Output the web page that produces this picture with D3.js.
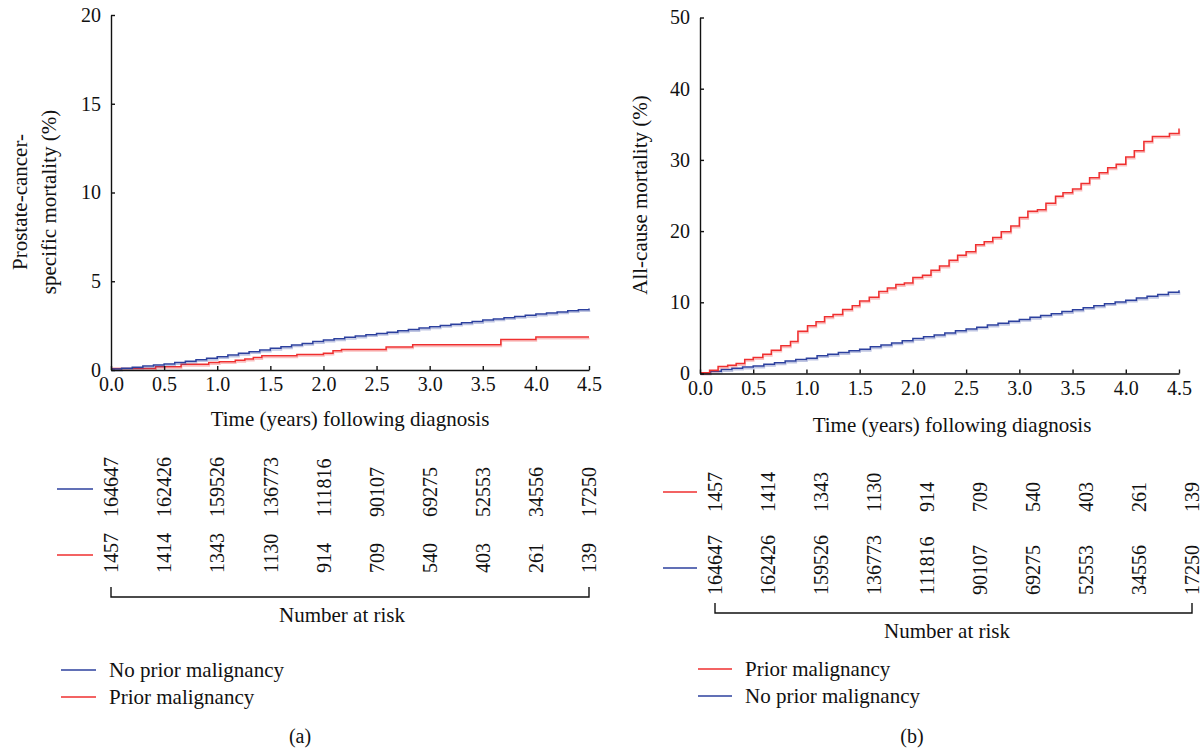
<!DOCTYPE html>
<html>
<head>
<meta charset="utf-8">
<script src="https://cdn.jsdelivr.net/npm/d3@7"></script>
<style>
  body { margin: 0; background: #fff; }
  svg text { font-family: "Liberation Serif", "Times New Roman", serif; fill: #111; }
</style>
</head>
<body>
<svg id="chart" width="1204" height="750"></svg>
<script>
var KM = {};

// time ticks shared by both panels (years)
var timeTicks = [0, 0.5, 1.0, 1.5, 2.0, 2.5, 3.0, 3.5, 4.0, 4.5];

// numbers at risk
var riskNoPrior = [164647, 162426, 159526, 136773, 111816, 90107, 69275, 52553, 34556, 17250];
var riskPrior = [1457, 1414, 1343, 1130, 914, 709, 540, 403, 261, 139];

// panel (a): prostate-cancer-specific mortality (%), step values [time, value after step]
var pcsmNoPrior = [
  [0.0, 0.05], [0.1, 0.10], [0.2, 0.16], [0.3, 0.22], [0.4, 0.28], [0.5, 0.34],
  [0.6, 0.42], [0.7, 0.50], [0.8, 0.58], [0.9, 0.66], [1.0, 0.75], [1.1, 0.84],
  [1.2, 0.94], [1.3, 1.03], [1.4, 1.12], [1.5, 1.22], [1.6, 1.31], [1.7, 1.41],
  [1.8, 1.50], [1.9, 1.60], [2.0, 1.69], [2.1, 1.76], [2.2, 1.84], [2.3, 1.91],
  [2.4, 1.99], [2.5, 2.06], [2.6, 2.13], [2.7, 2.21], [2.8, 2.28], [2.9, 2.36],
  [3.0, 2.43], [3.1, 2.51], [3.2, 2.58], [3.3, 2.66], [3.4, 2.73], [3.5, 2.81],
  [3.6, 2.88], [3.7, 2.95], [3.8, 3.02], [3.9, 3.08], [4.0, 3.15], [4.1, 3.21],
  [4.2, 3.27], [4.3, 3.34], [4.4, 3.40], [4.5, 3.46]
];
var pcsmPrior = [
  [0.0, 0.08], [0.42, 0.19], [0.66, 0.32], [0.92, 0.42], [1.02, 0.47], [1.17, 0.55],
  [1.26, 0.62], [1.34, 0.70], [1.42, 0.80], [1.75, 0.88], [2.0, 0.95], [2.09, 1.09],
  [2.17, 1.16], [2.59, 1.30], [2.84, 1.42], [3.67, 1.72], [4.0, 1.86], [4.5, 1.86]
];

// panel (b): all-cause mortality (%)
var acmNoPrior = [
  [0.0, 0.10], [0.1, 0.30], [0.2, 0.55], [0.3, 0.75], [0.4, 0.90], [0.5, 1.05],
  [0.6, 1.30], [0.7, 1.50], [0.8, 1.75], [0.9, 1.95], [1.0, 2.15], [1.1, 2.50],
  [1.2, 2.70], [1.3, 2.95], [1.4, 3.20], [1.5, 3.40], [1.6, 3.75], [1.7, 4.00],
  [1.8, 4.30], [1.9, 4.60], [2.0, 4.90], [2.1, 5.15], [2.2, 5.40], [2.3, 5.70],
  [2.4, 6.00], [2.5, 6.25], [2.6, 6.50], [2.7, 6.80], [2.8, 7.05], [2.9, 7.35],
  [3.0, 7.60], [3.1, 7.90], [3.2, 8.15], [3.3, 8.40], [3.4, 8.70], [3.5, 8.95],
  [3.6, 9.25], [3.7, 9.50], [3.8, 9.80], [3.9, 10.05], [4.0, 10.30], [4.1, 10.60],
  [4.2, 10.85], [4.3, 11.10], [4.4, 11.40], [4.5, 11.70]
];
var acmPrior = [
  [0.0, 0.10], [0.09, 0.47], [0.17, 1.00], [0.26, 1.17], [0.34, 1.40], [0.42, 1.97],
  [0.50, 2.25], [0.59, 2.70], [0.67, 3.28], [0.76, 3.90], [0.85, 4.50], [0.92, 5.95],
  [1.01, 6.70], [1.09, 7.26], [1.17, 7.96], [1.25, 8.30], [1.34, 9.00], [1.43, 9.50],
  [1.50, 10.20], [1.59, 10.70], [1.68, 11.50], [1.76, 12.00], [1.84, 12.50], [1.92, 12.70],
  [2.00, 13.50], [2.09, 13.80], [2.17, 14.50], [2.25, 15.10], [2.34, 15.90], [2.42, 16.60],
  [2.50, 17.10], [2.59, 18.10], [2.67, 18.50], [2.75, 19.10], [2.83, 19.90], [2.92, 20.70],
  [3.00, 21.90], [3.08, 22.80], [3.17, 23.00], [3.25, 23.90], [3.34, 24.90], [3.41, 25.40],
  [3.50, 25.90], [3.58, 26.70], [3.66, 27.50], [3.75, 28.20], [3.83, 28.90], [3.91, 29.40],
  [4.00, 30.40], [4.08, 31.30], [4.17, 32.60], [4.25, 33.30], [4.41, 33.70], [4.50, 34.40]
];

var pcsmTicks = [0, 5, 10, 15, 20];
var acmTicks = [0, 10, 20, 30, 40, 50];

var RED = "#ef2f2f";
var BLUE = "#2c409e";
var LABEL_SIZE = 21;

var svg = d3.select("#chart");

KM.drawPanel = function(p) {
  var g = svg.append("g");
  var x = d3.scaleLinear().domain([0, 4.5]).range(p.xRange);
  var y = d3.scaleLinear().domain([0, p.yMax]).range(p.yRange);

  var line = d3.line()
    .x(function(d){ return x(d[0]); })
    .y(function(d){ return y(d[1]); })
    .curve(d3.curveStepAfter);

  // curves (with a faint shadow like the original print)
  p.series.forEach(function(s){
    g.append("path").attr("d", line(s.data))
      .attr("fill", "none").attr("stroke", s.color).attr("stroke-width", 1.6)
      .attr("opacity", 0.3).attr("transform", "translate(0.5,1.6)");
    g.append("path").attr("d", line(s.data))
      .attr("fill", "none").attr("stroke", s.color).attr("stroke-width", 1.5);
  });

  var xAxis = g.append("g").attr("transform", "translate(0," + p.yRange[0] + ")")
    .call(d3.axisBottom(x).tickValues(timeTicks).tickFormat(d3.format(".1f"))
      .tickSizeInner(-4).tickSizeOuter(0).tickPadding(7));
  var yAxis = g.append("g").attr("transform", "translate(" + p.xRange[0] + ",0)")
    .call(d3.axisLeft(y).tickValues(p.yTicks).tickFormat(d3.format("d"))
      .tickSizeInner(-4).tickSizeOuter(0).tickPadding(10));
  [xAxis, yAxis].forEach(function(a){
    a.selectAll("path").attr("stroke", "#111").attr("stroke-width", 1.4);
    a.selectAll("line").attr("stroke", "#111").attr("stroke-width", 1.4);
    a.selectAll("text").attr("font-size", 20).attr("fill", "#111")
      .style("font-family", "Liberation Serif");
  });

  g.append("text").attr("x", p.xTitle[0]).attr("y", p.xTitle[1])
    .attr("text-anchor", "middle").attr("font-size", LABEL_SIZE)
    .text("Time (years) following diagnosis");

  p.yTitle.forEach(function(t){
    g.append("text")
      .attr("transform", "translate(" + t.x + "," + t.y + ") rotate(-90)")
      .attr("text-anchor", "middle").attr("dy", "0.35em").attr("font-size", LABEL_SIZE)
      .text(t.text);
  });

  // number at risk table
  var tx = d3.scaleLinear().domain([0, 4.5]).range(p.tableRange);
  p.rows.forEach(function(r){
    g.append("line").attr("x1", r.key[0]).attr("x2", r.key[1])
      .attr("y1", r.keyY).attr("y2", r.keyY)
      .attr("stroke", r.color).attr("stroke-width", 1.5);
    g.selectAll(null).data(r.values).enter().append("text")
      .attr("transform", function(d, i){
        return "translate(" + tx(timeTicks[i]) + "," + r.bottom + ") rotate(-90)";
      })
      .attr("dy", "0.36em").attr("font-size", 20)
      .text(function(d){ return d; });
  });

  var b = p.bracket;
  g.append("path")
    .attr("d", "M" + tx(0) + "," + (b - 10) + "V" + b + "H" + tx(4.5) + "V" + (b - 10))
    .attr("fill", "none").attr("stroke", "#111").attr("stroke-width", 1.4);
  g.append("text").attr("x", p.riskTitle[0]).attr("y", p.riskTitle[1])
    .attr("text-anchor", "middle").attr("font-size", LABEL_SIZE).text("Number at risk");

  // legend
  p.legend.forEach(function(l, i){
    var ly = p.legendY + i * 27;
    g.append("line").attr("x1", p.legendX[0]).attr("x2", p.legendX[1])
      .attr("y1", ly).attr("y2", ly)
      .attr("stroke", l.color).attr("stroke-width", 1.5);
    g.append("text").attr("x", p.legendX[2]).attr("y", ly).attr("dy", "0.33em")
      .attr("font-size", LABEL_SIZE).text(l.label);
  });

  g.append("text").attr("x", p.tag[0]).attr("y", p.tag[1])
    .attr("text-anchor", "middle").attr("font-size", 20).text(p.tag[2]);
};

KM.drawPanel({
  xRange: [111, 589], yRange: [370, 15], yMax: 20, yTicks: pcsmTicks,
  series: [{data: pcsmPrior, color: RED}, {data: pcsmNoPrior, color: BLUE}],
  xTitle: [350, 426],
  yTitle: [{x: 20, y: 202, text: "Prostate-cancer-"}, {x: 49, y: 202, text: "specific mortality (%)"}],
  tableRange: [111, 589],
  rows: [
    {values: riskNoPrior, color: BLUE, bottom: 517, keyY: 489, key: [57, 93]},
    {values: riskPrior, color: RED, bottom: 573, keyY: 555, key: [57, 93]}
  ],
  bracket: 597, riskTitle: [342, 622],
  legend: [{label: "No prior malignancy", color: BLUE}, {label: "Prior malignancy", color: RED}],
  legendX: [61, 96, 109], legendY: 670,
  tag: [300, 743, "(a)"]
});

KM.drawPanel({
  xRange: [700, 1179], yRange: [373.5, 17.5], yMax: 50, yTicks: acmTicks,
  series: [{data: acmNoPrior, color: BLUE}, {data: acmPrior, color: RED}],
  xTitle: [952, 432],
  yTitle: [{x: 640, y: 195, text: "All-cause mortality (%)"}],
  tableRange: [715, 1192],
  rows: [
    {values: riskPrior, color: RED, bottom: 512, keyY: 492, key: [663, 697]},
    {values: riskNoPrior, color: BLUE, bottom: 595, keyY: 568, key: [663, 697]}
  ],
  bracket: 613, riskTitle: [947, 638],
  legend: [{label: "Prior malignancy", color: RED}, {label: "No prior malignancy", color: BLUE}],
  legendX: [698, 732, 745], legendY: 669,
  tag: [912, 743, "(b)"]
});
</script>
</body>
</html>
